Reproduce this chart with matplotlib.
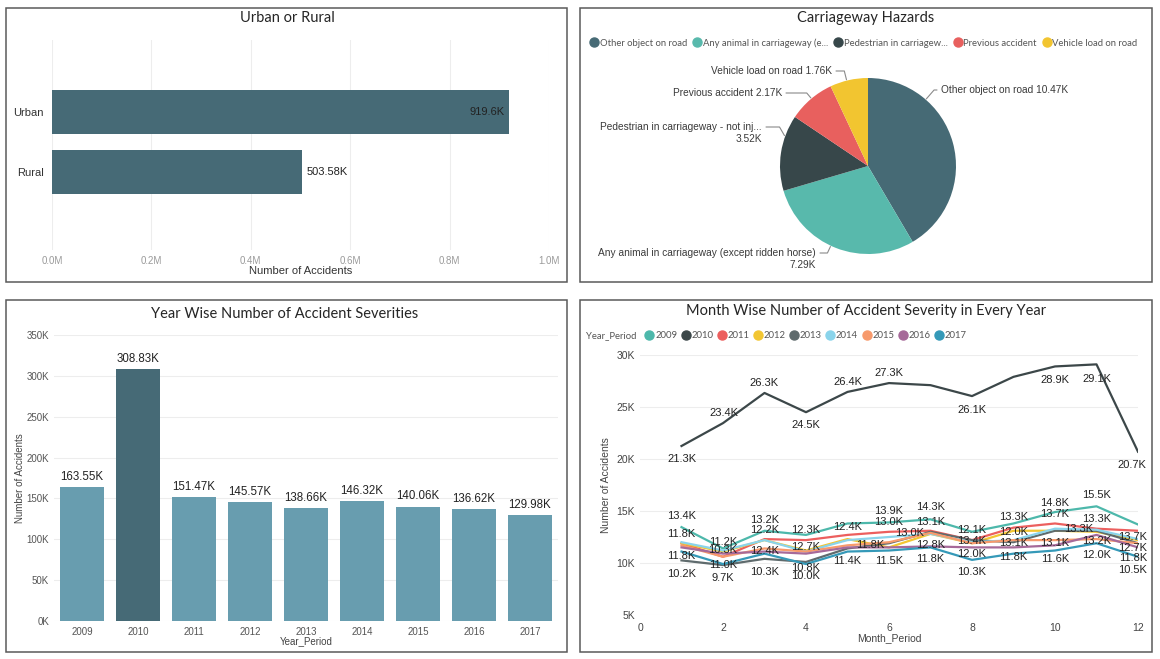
import matplotlib.pyplot as plt
from matplotlib.patches import Rectangle
from matplotlib.lines import Line2D
import numpy as np

plt.rcParams['font.family'] = ['Liberation Sans', 'DejaVu Sans']
TITLE_FONT = ['Lato', 'DejaVu Sans']

# ---------------- data ----------------
area_names = ['Rural', 'Urban']
area_counts = [503580, 919600]
area_text = ['503.58K', '919.6K']

hazard_legend = ['Other object on road', 'Any animal in carriageway (e...',
                 'Pedestrian in carriagew...', 'Previous accident', 'Vehicle load on road']
hazard_text = ['Other object on road 10.47K',
               'Any animal in carriageway (except ridden horse)\n7.29K',
               'Pedestrian in carriageway - not inj...\n3.52K',
               'Previous accident 2.17K',
               'Vehicle load on road 1.76K']
hazard_counts = [10470, 7290, 3520, 2170, 1760]

years = ['2009', '2010', '2011', '2012', '2013', '2014', '2015', '2016', '2017']
year_counts = [163550, 308830, 151470, 145570, 138660, 146320, 140060, 136620, 129980]
year_text = ['163.55K', '308.83K', '151.47K', '145.57K', '138.66K',
             '146.32K', '140.06K', '136.62K', '129.98K']

months = list(range(1, 13))
m2009 = [13.45, 11.4, 13.1, 12.7, 13.8, 13.9, 14.2, 13.0, 13.8, 14.9, 15.45, 13.7]
m2010 = [21.25, 23.45, 26.35, 24.5, 26.45, 27.3, 27.1, 26.05, 27.9, 28.9, 29.1, 20.7]
m2011 = [11.9, 10.6, 12.3, 12.2, 12.7, 13.0, 13.1, 12.2, 13.4, 13.8, 13.3, 13.1]
m2012 = [11.9, 11.1, 12.2, 11.2, 12.3, 11.5, 12.8, 11.9, 13.1, 13.1, 13.0, 12.2]
m2013 = [10.25, 9.8, 10.4, 10.1, 11.4, 11.9, 13.0, 12.2, 12.0, 13.1, 13.1, 11.9]
m2014 = [12.0, 11.2, 12.2, 11.1, 12.2, 12.5, 12.8, 12.0, 12.2, 13.3, 13.2, 12.3]
m2015 = [11.7, 10.6, 11.4, 11.1, 11.7, 12.0, 12.9, 11.9, 12.2, 12.2, 12.3, 11.9]
m2016 = [11.5, 10.9, 11.1, 10.9, 11.5, 11.5, 11.6, 11.5, 11.5, 11.7, 12.7, 11.5]
m2017 = [11.1, 9.9, 10.9, 9.9, 11.1, 11.2, 11.5, 10.3, 10.9, 11.2, 11.9, 10.6]
month_series = [m2009, m2010, m2011, m2012, m2013, m2014, m2015, m2016, m2017]

# data labels of the line chart: month, label height (K), text
lbl_m = [1, 1, 1, 1, 2, 2, 2, 2, 3, 3, 3, 3, 4, 4, 4, 4, 5, 5, 5.55, 6, 6, 6, 6.5,
         7, 7, 7, 7, 8, 8, 8, 8, 9, 9, 9, 9, 10, 10, 10, 10, 11, 11, 10.56, 11, 11,
         11.88, 11.88, 11.88, 11.88,
         1, 2.02, 3, 4, 5, 6, 8, 10, 11, 11.85]
lbl_v = [14.49, 12.82, 10.64, 8.97, 12.05, 11.25, 9.78, 8.6, 14.17, 13.14, 11.12, 9.13,
         13.14, 11.54, 9.55, 8.72, 13.46, 10.19, 11.7, 10.19, 15.0, 13.94, 12.88,
         15.38, 13.94, 11.7, 10.42, 13.14, 12.1, 10.83, 9.13, 14.42, 12.98, 11.92, 10.58,
         15.77, 14.74, 11.92, 10.42, 16.5, 14.26, 13.3, 12.1, 10.74,
         12.5, 11.47, 10.51, 9.3,
         20.03, 24.42, 27.3, 23.24, 27.4, 28.27, 24.74, 27.56, 27.72, 19.4]
lbl_txt = ['13.4K', '11.8K', '11.8K', '10.2K', '11.2K', '10.3K', '11.0K', '9.7K',
           '13.2K', '12.2K', '12.4K', '10.3K', '12.3K', '12.7K', '10.8K', '10.0K',
           '12.4K', '11.4K', '11.8K', '11.5K', '13.9K', '13.0K', '13.0K',
           '14.3K', '13.1K', '12.8K', '11.8K', '12.1K', '13.4K', '12.0K', '10.3K',
           '13.3K', '12.0K', '13.1K', '11.8K', '14.8K', '13.7K', '13.1K', '11.6K',
           '15.5K', '13.3K', '13.3K', '13.2K', '12.0K',
           '13.7K', '12.7K', '11.8K', '10.5K',
           '21.3K', '23.4K', '26.3K', '24.5K', '26.4K', '27.3K', '26.1K', '28.9K', '29.1K', '20.7K']

# ---------------- style ----------------
W, H = 1160, 659
pie_colors = ['#466A75', '#58B9AC', '#37474A', '#E8605E', '#F2C530']
year_colors = ['#4DB8AB', '#3C4749', '#EC5F5E', '#F2C632', '#5F6B6D',
               '#8AD4EB', '#F79A6C', '#A66999', '#3599B8']
bar_light = '#689DAF'
bar_dark = '#466A76'
grid_c = '#EDEDED'


def fr(x0, y0, x1, y1):
    return [x0 / W, 1 - y1 / H, (x1 - x0) / W, (y1 - y0) / H]


fig = plt.figure(figsize=(W / 100, H / 100), dpi=100)
fig.patch.set_facecolor('white')

for x0, y0, x1, y1 in [(6, 8, 567, 282), (580, 8, 1152, 282),
                       (6, 300, 567, 652), (580, 300, 1152, 652)]:
    fig.add_artist(Rectangle((x0 / W, 1 - y1 / H), (x1 - x0) / W, (y1 - y0) / H,
                             transform=fig.transFigure, fill=False,
                             edgecolor='#5A5A5A', lw=1.1))


def title(x, y, s):
    fig.text(x / W, 1 - y / H, s, ha='center', va='center', fontsize=10.5,
             color='#252525', family=TITLE_FONT)


# ---- Urban or Rural ----
title(287, 18, 'Urban or Rural')
ax1 = fig.add_axes(fr(52, 40, 549, 250))
ax1.barh([0, 1], area_counts, height=0.73, color=bar_dark)
ax1.set_ylim(-1.3, 2.2)
ax1.set_xlim(0, 1000000)
ax1.set_xticks(np.arange(0, 1000001, 200000))
ax1.set_xticklabels(['0.0M', '0.2M', '0.4M', '0.6M', '0.8M', '1.0M'])
ax1.set_yticks([0, 1])
ax1.set_yticklabels(area_names)
ax1.grid(axis='x', color=grid_c, lw=0.8)
ax1.set_axisbelow(True)
for s in ax1.spines.values():
    s.set_visible(False)
ax1.tick_params(axis='x', length=0, labelsize=7, labelcolor='#9A9A9A', pad=4)
ax1.tick_params(axis='y', length=0, labelsize=8, labelcolor='#333333', pad=6)
ax1.set_xlabel('Number of Accidents', fontsize=8, color='#333333', labelpad=0)
ax1.text(area_counts[1] - 8000, 1, area_text[1], ha='right', va='center', fontsize=8, color='#222222')
ax1.text(area_counts[0] + 8000, 0, area_text[0], ha='left', va='center', fontsize=8, color='#222222')

# ---- Carriageway Hazards ----
title(866, 18, 'Carriageway Hazards')
ax2 = fig.add_axes(fr(582, 55, 1150, 280))
ax2.pie(hazard_counts, colors=pie_colors, startangle=90, counterclock=False,
        radius=1, wedgeprops=dict(lw=0))
ax2.set_aspect('auto')
ax2.set_xlim((582 - 868) / 88, (1150 - 868) / 88)
ax2.set_ylim((166 - 280) / 88, (166 - 55) / 88)
ax2.axis('off')


def pd_(px, py):
    return (px - 868) / 88, (166 - py) / 88


pie_text_at = [(941, 90, 'left'), (816, 259, 'right'), (762, 133, 'right'),
               (782, 93, 'right'), (832, 71, 'right')]
pie_lead_at = [(937, 90), (820, 253), (766, 127), (786, 93), (836, 71)]
pie_edge_ang = [49, -115, 160, 130, 104]
pie_lead_ang = [49, -115, 120, 130, 104]
for txt, (tx, ty, ha), (lx, ly), ang, la in zip(hazard_text, pie_text_at, pie_lead_at,
                                                pie_edge_ang, pie_lead_ang):
    x, y = pd_(tx, ty)
    ax2.text(x, y, txt, ha=ha, va='center', fontsize=7.3, color='#3A3A3A',
             multialignment='right', linespacing=1.15)
    ex, ey = np.cos(np.radians(ang)), np.sin(np.radians(ang))
    ax2.annotate('', xy=(ex * 1.01, ey * 1.01), xytext=pd_(lx, ly),
                 arrowprops=dict(arrowstyle='-', color='#8A8A8A', lw=0.8,
                                 shrinkA=0, shrinkB=0,
                                 connectionstyle='angle,angleA=0,angleB=%d' % la))

handles = [Line2D([], [], marker='o', ls='', color=c, markersize=6.5) for c in pie_colors]
fig.legend(handles, hazard_legend, loc='center left', bbox_to_anchor=(584 / W, 1 - 43 / H),
           ncol=5, frameon=False, handletextpad=0.0, columnspacing=0.45,
           handlelength=1.2, borderpad=0, prop=dict(family=TITLE_FONT, size=6.8),
           labelcolor='#555555')

# ---- Year Wise ----
title(285, 314, 'Year Wise Number of Accident Severities')
ax3 = fig.add_axes(fr(54, 335, 558, 621))
xpos = np.arange(len(years))
ax3.bar(xpos, year_counts, width=0.79,
        color=[bar_dark if y == '2010' else bar_light for y in years])
for xp, v, t in zip(xpos, year_counts, year_text):
    ax3.text(xp, v + 5000, t, ha='center', va='bottom', fontsize=8.3, color='#222222')
ax3.set_xlim(-0.5, len(years) - 0.5)
ax3.set_ylim(0, 350000)
ax3.set_xticks(xpos)
ax3.set_xticklabels(years)
ax3.set_yticks(np.arange(0, 350001, 50000))
ax3.set_yticklabels(['%dK' % (v // 1000) for v in range(0, 350001, 50000)])
ax3.grid(axis='y', color=grid_c, lw=0.8)
ax3.set_axisbelow(True)
for s in ax3.spines.values():
    s.set_visible(False)
ax3.tick_params(length=0, labelsize=7, labelcolor='#555555')
ax3.tick_params(axis='x', pad=4)
ax3.set_xlabel('Year_Period', fontsize=7, color='#444444', labelpad=0)
ax3.set_ylabel('Number of Accidents', fontsize=7, color='#444444', labelpad=1)

# ---- Month Wise ----
title(866, 311, 'Month Wise Number of Accident Severity in Every Year')
ax4 = fig.add_axes(fr(640, 355, 1138, 615))
for yr, ser, c in zip(years, month_series, year_colors):
    ax4.plot(months, [v * 1000 for v in ser], color=c, lw=1.6, label=yr)
for m, v, t in zip(lbl_m, lbl_v, lbl_txt):
    ax4.text(m, v * 1000, t, ha='center', va='center', fontsize=8, color='#222222')
ax4.set_xlim(0, 12)
ax4.set_ylim(5000, 30000)
ax4.set_xticks(range(0, 13, 2))
ax4.set_yticks(range(5000, 30001, 5000))
ax4.set_yticklabels(['%dK' % (v // 1000) for v in range(5000, 30001, 5000)])
ax4.grid(axis='y', color=grid_c, lw=0.8)
ax4.set_axisbelow(True)
for s in ax4.spines.values():
    s.set_visible(False)
ax4.tick_params(length=0, labelsize=7.5, labelcolor='#444444')
ax4.tick_params(axis='x', pad=6)
ax4.set_xlabel('Month_Period', fontsize=7.5, color='#444444', labelpad=0)
ax4.set_ylabel('Number of Accidents', fontsize=7.5, color='#444444', labelpad=4)

fig.text(586 / W, 1 - 336 / H, 'Year_Period', ha='left', va='center', fontsize=6.8,
         color='#555555', family=TITLE_FONT)
handles = [Line2D([], [], marker='o', ls='', color=c, markersize=6.5) for c in year_colors]
fig.legend(handles, years, loc='center left', bbox_to_anchor=(639 / W, 1 - 336 / H),
           ncol=9, frameon=False, handletextpad=0.0, columnspacing=0.3,
           handlelength=1.2, borderpad=0, prop=dict(family=TITLE_FONT, size=6.8),
           labelcolor='#555555')

fig.savefig('out.png', dpi=100)
